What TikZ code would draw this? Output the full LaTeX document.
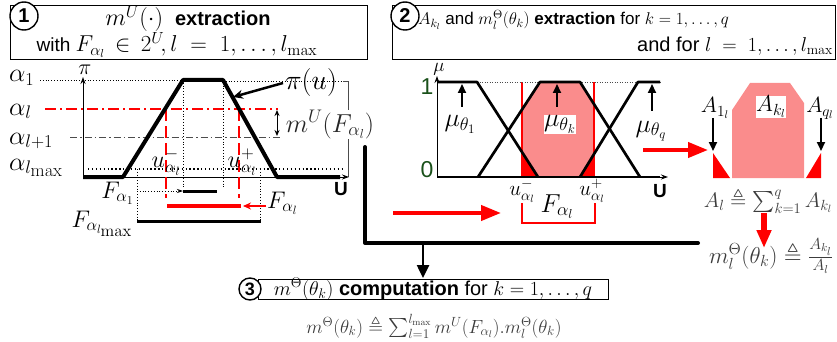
\RequirePackage{fix-cm}
\documentclass[tikz,border=0pt]{standalone}
\usepackage{amsmath,amssymb}
\usepackage[no-math]{fontspec}
\setmainfont{Liberation Sans}
\usetikzlibrary{arrows.meta}
\definecolor{pinkA}{RGB}{250,140,140}
\definecolor{dgreen}{RGB}{25,80,25}
\definecolor{txtgray}{RGB}{60,60,60}
\newcommand{\hdrmath}[2]{{\fontsize{#1}{#1}\selectfont$#2$}}
\tikzset{
  every node/.style={inner sep=1pt},
  numcirc/.style={circle, draw, line width=1.4pt, fill=white, inner sep=0pt, minimum size=28pt, font=\fontsize{20}{20}\selectfont\bfseries},
  boxframe/.style={draw, line width=1.2pt, inner sep=0pt},
  alab/.style={font=\fontsize{26}{26}\selectfont, anchor=base west},
  mlab/.style={font=\fontsize{24}{24}\selectfont, anchor=base},
  fml/.style={text=txtgray, anchor=base},
  axis/.style={line width=0.9pt, -{Stealth[length=7pt,width=5pt]}},
  trap/.style={line width=4pt, line join=round},
  memb/.style={line width=2.7pt, line join=round},
  dots/.style={line width=0.8pt, dotted},
  bigdots/.style={line width=1.3pt, dash pattern=on 1.3pt off 2.6pt},
  redarrow/.style={red, line width=4pt, -{Triangle[length=20pt,width=15pt]}},
  blkarrow/.style={line width=2pt, -{Triangle[length=9pt,width=8pt]}},
  ulab/.style={font=\fontsize{19}{19}\selectfont\bfseries},
}
\begin{document}
\begin{tikzpicture}[x=1pt,y=-1pt]
\useasboundingbox (0,0) rectangle (837,342);

% ---------- Box 1 ----------
\node[boxframe, anchor=north west, minimum width=357pt, minimum height=54pt] (box1) at (10,5) {};
\node[numcirc] (n1) at (24,16) {1};
\node[anchor=base, font=\fontsize{20}{20}\selectfont] (t1a) at (188,26) {\hdrmath{24}{m^U(\cdot)}\hspace{12pt}\textbf{extraction}};
\node[anchor=base, font=\fontsize{19}{19}\selectfont] (t1b) at (177,52) {with \hdrmath{23}{F_{\alpha_l}\,\in\,2^U\!,l\;=\;1,\ldots,l_{\max}}};

% ---------- Box 2 ----------
\node[boxframe, anchor=north west, minimum width=443pt, minimum height=54pt] (box2) at (392,5) {};
\node[numcirc] (n2) at (405,16) {2};
\node[anchor=base west, font=\fontsize{17}{17}\selectfont] (t2a) at (417,25) {$A_{k_l}$ and $m_l^\Theta(\theta_k)$ \textbf{extraction} for $k=1,\ldots,q$};
\node[anchor=base east, font=\fontsize{20}{20}\selectfont] (t2b) at (834,52) {and for $l\;=\;1,\ldots,l_{\max}$};

% ---------- Box 3 ----------
\node[boxframe, anchor=north west, minimum width=350pt, minimum height=20pt] (box3) at (258,279) {};
\node[numcirc, minimum size=22pt, font=\fontsize{18}{18}\selectfont\bfseries] (n3) at (250,289) {3};
\node[anchor=base, font=\fontsize{20}{20}\selectfont] (t3) at (433,295) {$m^\Theta(\theta_k)$ \textbf{computation} for $k=1,\ldots,q$};
\node[fml, font=\fontsize{19}{19}\selectfont] (f3) at (434,333) {$m^\Theta(\theta_k)\triangleq\sum_{l=1}^{l_{\max}} m^U(F_{\alpha_l}).m_l^\Theta(\theta_k)$};

% ---------- Left plot ----------
\coordinate (o1) at (83,177);
\coordinate (o1y) at (83,77);
\coordinate (o1x) at (349,177);
\draw[dots] (40,80) -- (183,80);
\draw[dots] (223,81) -- (343,81);
\draw[black!70, line width=0.8pt] (343,81) -- (348,81) -- (348,177);
\draw[red, line width=1.5pt, dash pattern=on 11pt off 4pt on 2pt off 4pt] (45,109) -- (278,109);
\draw[black!70, line width=0.7pt, dash pattern=on 7pt off 3pt on 1.5pt off 3pt] (70,137) -- (280,137);
\draw[bigdots] (88,169) -- (345,169);
\draw[axis] (o1) -- (o1y);
\draw[axis] (o1) -- (o1x);
\node[font=\fontsize{22}{22}\selectfont, anchor=base] (pi) at (85,75) {$\pi$};
\node[ulab] (U1) at (341,189) {U};
\node[alab] (a1) at (8,82) {$\alpha_1$};
\node[alab] (al) at (8,115) {$\alpha_l$};
\node[alab] (al1) at (8,144) {$\alpha_{l+1}$};
\node[alab] (alm) at (8,170) {$\alpha_{l_{\scriptstyle\max}}$};
% verticals
\draw[red, line width=1.5pt, dash pattern=on 12pt off 5pt] (166,109) -- (166,198);
\draw[red, line width=1.5pt, dash pattern=on 12pt off 5pt] (239,109) -- (239,198);
\draw[dots] (183,80) -- (183,189);
\draw[dots] (223,80) -- (223,189);
\draw[dots] (137,169) -- (137,222);
\draw[dots] (260,169) -- (260,222);
% trapezoid
\draw[trap] (83,177) -- (123,177) -- (183,80) -- (223,80) -- (277,177) -- (340,177);
% sets
\coordinate (fa1s) at (137,191);
\coordinate (fa1e) at (183,191);
\draw[dots, -{Stealth[length=6pt,width=4pt]}] (fa1s) -- (fa1e);
\draw[line width=3pt] (183,191) -- (217,191);
\draw[red, line width=3.5pt] (167,206) -- (241,206);
\coordinate (falS) at (266,206);
\coordinate (falE) at (243,206);
\draw[red, line width=1.5pt, -{Stealth[length=8pt,width=7pt]}] (falS) -- (falE);
\draw[line width=3pt] (137,221) -- (261,221);
\node[mlab, anchor=base east] (Fa1) at (135,198) {$F_{\alpha_1}$};
\node[mlab, anchor=base west] (Fal) at (266,208) {$F_{\alpha_l}$};
\node[mlab, anchor=base east] (Falm) at (134,227) {$F_{\alpha_{l_{\scriptstyle\max}}}$};
\node[mlab] (um) at (166,167) {$u^-_{\alpha_l}$};
\node[mlab] (up) at (242,167) {$u^+_{\alpha_l}$};
% pi(u)
\node[font=\fontsize{28}{28}\selectfont, anchor=base] (piu) at (311,90) {$\pi(u)$};
\coordinate (piuTip) at (233,97);
\coordinate (piuStart) at (283,83);
\draw[line width=2.5pt, -{Stealth[length=10pt,width=9pt]}] (piuStart) -- (piuTip);
% m^U(F)
\draw[line width=1pt, {Stealth[length=6pt,width=5pt]}-{Stealth[length=6pt,width=5pt]}] (277,110) -- (277,136);
\node[mlab, font=\fontsize{26}{26}\selectfont, fill=white, text=black!85, inner sep=0pt] (mUF) at (330,132) {$m^U(F_{\alpha_l})$};

% ---------- connector L ----------
\coordinate (L1) at (365,147);
\coordinate (L2) at (365,243);
\coordinate (L3) at (698,243);
\coordinate (Ldown) at (423,243);
\coordinate (Lend) at (423,278);
\draw[line width=4pt, line cap=round, line join=round] (L1) -- (L2) -- (L3);
\draw[line width=2.5pt, -{Triangle[length=13pt,width=12pt]}] (Ldown) -- (Lend);

% ---------- Middle plot ----------
\coordinate (o2) at (437,177);
\coordinate (o2y) at (437,76);
\coordinate (o2x) at (668,177);
\fill[pinkA] (522,177) -- (522,110) -- (540,82) -- (580,82) -- (594,104) -- (594,177) -- cycle;
\fill[red] (522,177) -- (522,152) -- (538,177) -- cycle;
\fill[red] (580,177) -- (594,155) -- (594,177) -- cycle;
\draw[red, line width=1.3pt] (522,82) -- (522,177);
\draw[red, line width=1.3pt] (594,82) -- (594,177);
\draw[black!70, line width=0.5pt, dotted] (437,82) -- (660,82);
\draw[axis] (o2) -- (o2y);
\draw[line width=2.5pt] (o2) -- (660,177);
\draw[axis] (655,177) -- (o2x);
\draw[memb] (437,82) -- (477,82) -- (538,177);
\draw[memb] (478,177) -- (540,82) -- (580,82) -- (640,177);
\draw[memb] (580,177) -- (638,82) -- (660,82);
\node[font=\fontsize{19}{19}\selectfont] (mu) at (439,69) {$\mu$};
\node[font=\fontsize{23}{23}\selectfont, text=dgreen, anchor=base] (one) at (427,95) {1};
\node[font=\fontsize{23}{23}\selectfont, text=dgreen, anchor=base] (zero) at (427,177) {0};
\node[ulab] (U2) at (660,191) {U};
\node[mlab, font=\fontsize{26}{26}\selectfont] (mt1) at (460,127) {$\mu_{\theta_1}$};
\node[mlab, font=\fontsize{26}{26}\selectfont, fill=white, inner sep=0.5pt] (mtk) at (560,127) {$\mu_{\theta_k}$};
\node[mlab, font=\fontsize{26}{26}\selectfont] (mtq) at (651,132) {$\mu_{\theta_q}$};
\draw[blkarrow] (462,107) -- (462,84);
\draw[blkarrow] (557,107) -- (557,84);
\draw[blkarrow] (652,111) -- (652,84);
\node[mlab, font=\fontsize{21}{21}\selectfont] (um2) at (522,195) {$u^-_{\alpha_l}$};
\node[mlab, font=\fontsize{21}{21}\selectfont] (up2) at (592,195) {$u^+_{\alpha_l}$};
\node[mlab, font=\fontsize{26}{26}\selectfont] (Fal2) at (557,212) {$F_{\alpha_l}$};
\draw[red, line width=2pt] (522,203) -- (522,223) -- (595,223) -- (595,203);
\coordinate (rA1) at (393,213);
\coordinate (rA2) at (501,213);
\draw[redarrow] (rA1) -- (rA2);

% ---------- Right panel ----------
\coordinate (rB1) at (643,150);
\coordinate (rB2) at (708,150);
\draw[redarrow] (rB1) -- (rB2);
\fill[pinkA] (732,178) -- (732,110) -- (750,83) -- (790,83) -- (804,103) -- (804,178) -- cycle;
\fill[red] (713,153) -- (713,178) -- (730,178) -- cycle;
\fill[red] (806,178) -- (821,153) -- (821,178) -- cycle;
\node[mlab, font=\fontsize{23}{23}\selectfont, fill=white, inner sep=0.5pt] (Akl) at (771,112) {$A_{k_l}$};
\node[mlab, font=\fontsize{22}{22}\selectfont] (A1l) at (715,113) {$A_{1_l}$};
\node[mlab, font=\fontsize{22}{22}\selectfont] (Aql) at (820,113) {$A_{q_l}$};
\draw[blkarrow] (713,118) -- (713,151);
\draw[blkarrow] (821,118) -- (821,151);
\node[fml, font=\fontsize{21}{21}\selectfont] (Al) at (768,207) {$A_l\triangleq\sum_{k=1}^q A_{k_l}$};
\coordinate (rC1) at (764,213);
\coordinate (rC2) at (764,248);
\draw[red, line width=6pt, -{Triangle[length=18pt,width=14pt]}] (rC1) -- (rC2);
\node[fml, font=\fontsize{23}{23}\selectfont] (mlt) at (771,263) {$m_l^\Theta(\theta_k)\triangleq\frac{A_{k_l}}{A_l}$};
\end{tikzpicture}
\end{document}
